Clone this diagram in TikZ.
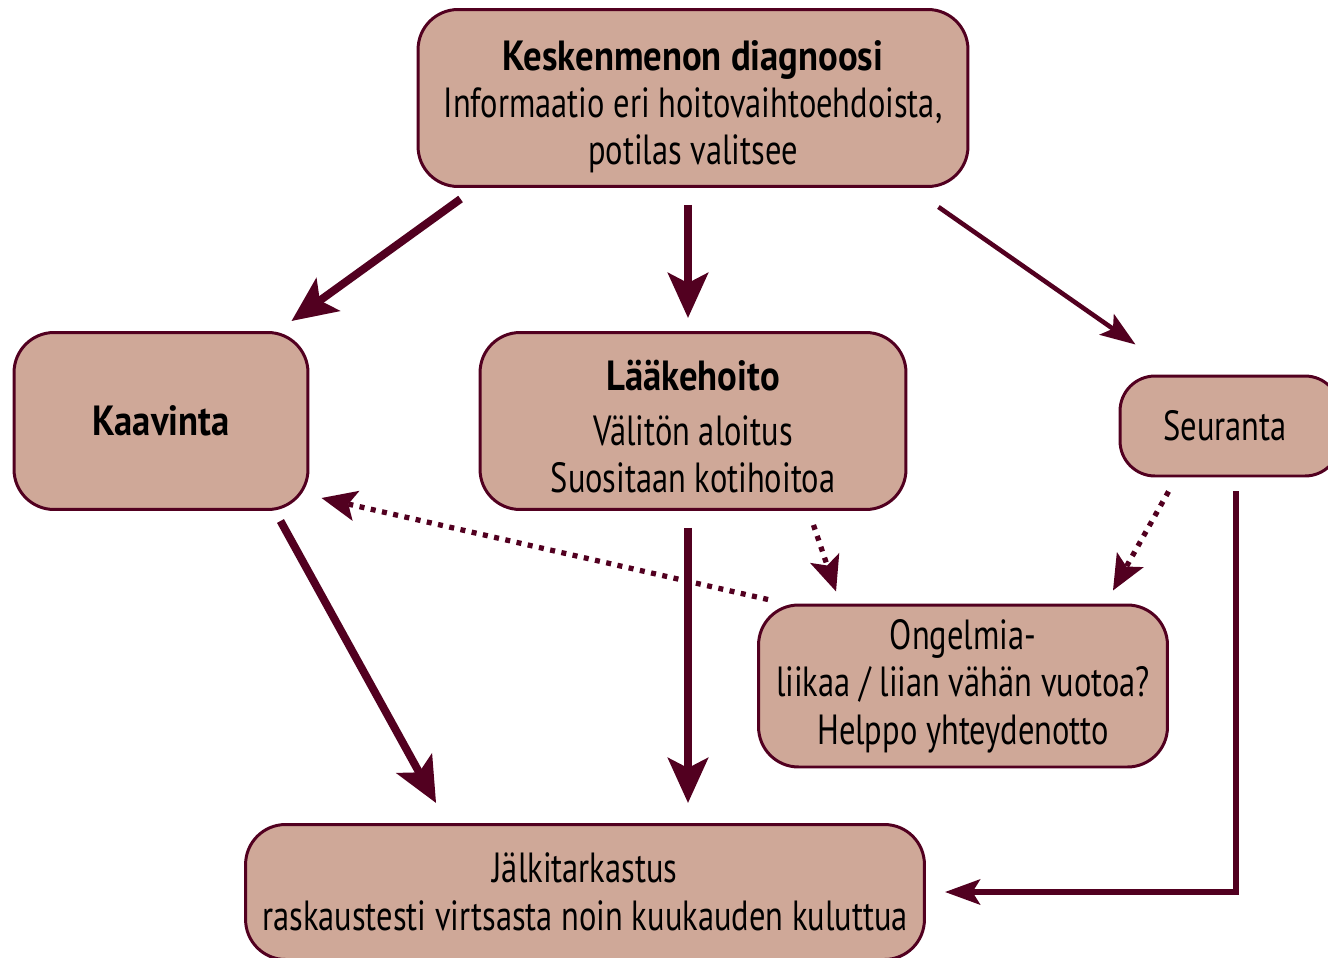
\documentclass[tikz,border=0pt]{standalone}
\usepackage{fontspec}
\setmainfont[FakeStretch=0.77, BoldFeatures={FakeStretch=0.87}]{PT Sans}
\usepackage{tikz}
\usetikzlibrary{shapes,arrows,arrows.meta,positioning}
\definecolor{boxfill}{HTML}{CFA898}
\definecolor{wine}{HTML}{520020}

\begin{document}
\begin{tikzpicture}[x=0.02cm, y=-0.02cm,
                   box/.style={draw=wine, line width=1.7pt, fill=boxfill,
                               rounded corners=0.8cm, align=center, inner sep=0pt,
                               font=\fontsize{24}{27}\selectfont},
                   bigarrow/.style={draw=wine, line width=4.5pt,
                                    -{Stealth[length=0.9cm, width=0.8cm, inset=0.2cm]}},
                   thinarrow/.style={draw=wine, line width=2.6pt,
                                     -{Stealth[length=0.7cm, width=0.5cm, inset=0.15cm]}},
                   dotarrow/.style={draw=wine, line width=3pt, dash pattern=on 0.1cm off 0.13cm,
                                    -{Stealth[length=0.7cm, width=0.6cm, inset=0.15cm]}}]
          \useasboundingbox (0,0) rectangle (1328,957);
          % boxes
          \node[box, minimum width=11cm, minimum height=3.54cm] (diag) at (693,98)
            {\rule{0pt}{27pt}\textbf{Keskenmenon diagnoosi}\\Informaatio eri hoitovaihtoehdoista,\\potilas valitsee};
          \node[box, minimum width=5.88cm, minimum height=3.54cm] (kaav) at (161,421)
            {\textbf{Kaavinta}};
          \node[box, minimum width=8.52cm, minimum height=3.54cm] (laake) at (693,421)
            {\rule{0pt}{24pt}\textbf{Lääkehoito}\\[4pt]Välitön aloitus\\Suositaan kotihoitoa};
          \node[box, minimum width=4.4cm, minimum height=2cm, rounded corners=0.7cm] (seur) at (1230,426)
            {Seuranta\hspace{0.2cm}};
          \node[box, minimum width=8.18cm, minimum height=3.24cm] (ongel) at (963,686)
            {Ongelmia-\\liikaa / liian vähän vuotoa?\\Helppo yhteydenotto};
          \node[box, minimum width=13.58cm, minimum height=2.7cm] (jalki) at (585,892)
            {Jälkitarkastus\\raskaustesti virtsasta noin kuukauden kuluttua};
          % arrows
          \draw[bigarrow] ([shift={(44,11)}]diag.south west) -- ([shift={(-18,-10)}]kaav.north east);
          \draw[bigarrow] ([shift={(-5,17)}]diag.south) -- ([shift={(-5,-13)}]laake.north);
          \draw[thinarrow] ([shift={(-31,19)}]diag.south east) -- ([shift={(17,-30)}]seur.north west);
          \draw[bigarrow] ([shift={(-29,10)}]kaav.south east) -- ([shift={(192,-20)}]jalki.north west);
          \draw[bigarrow] ([shift={(-5,17)}]laake.south) -- ([shift={(103,-20)}]jalki.north);
          \draw[thinarrow, line width=3.4pt] ([shift={(6,14)}]seur.south) |- ([shift={(19,0)}]jalki.east);
          \draw[dotarrow] ([shift={(11,-4)}]ongel.north west) -- ([shift={(12,-13)}]kaav.south east);
          \draw[dotarrow] ([shift={(-94,14)}]laake.south east) -- ([shift={(79,-12)}]ongel.north west);
          \draw[dotarrow] ([shift={(50,14)}]seur.south west) -- ([shift={(-56,-13)}]ongel.north east);
        \end{tikzpicture}
\end{document}
